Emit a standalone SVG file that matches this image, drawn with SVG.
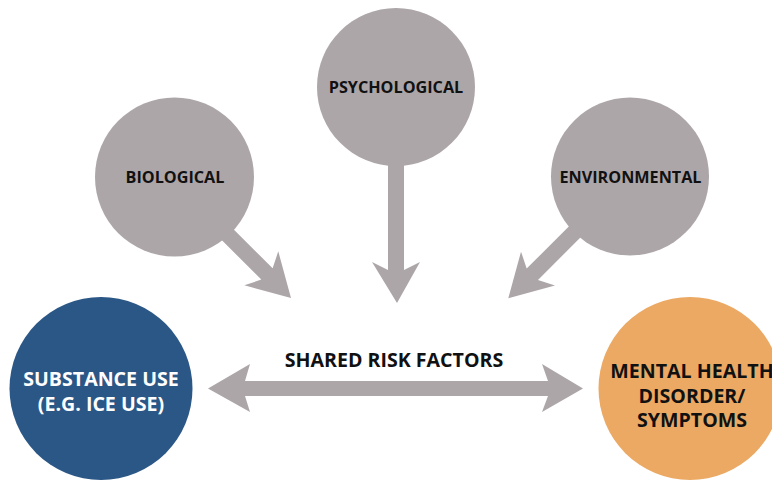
<svg xmlns="http://www.w3.org/2000/svg" width="772" height="480" viewBox="0 0 772 480">
  <defs>
    <style>
      .g { fill: #ADA6A9; }
      .lbl { font-family: "Open Sans", "Noto Sans", "Liberation Sans", sans-serif; font-weight: bold; text-anchor: middle; }
      .sm { font-size: 16.2px; fill: #111111; }
      .lg { font-size: 19.6px; }
    </style>
  </defs>
  <rect width="772" height="480" fill="#FFFFFF"/>
  <g id="connectors">
    <!-- vertical arrow from psychological -->
    <polygon class="g" points="388,140 404,140 404,270 420,262 397,303 372,262 388,270"/>
    <!-- diagonal arrow from biological -->
    <polygon class="g" transform="translate(291,298) rotate(45)" points="-130,-8 -34,-8 -42,-24 0,0 -42,24 -34,8 -130,8"/>
    <!-- diagonal arrow from environmental -->
    <polygon class="g" transform="translate(508.3,298.3) rotate(135)" points="-130,-8 -34,-8 -42,-24 0,0 -42,24 -34,8 -130,8"/>
    <!-- horizontal double arrow -->
    <polygon class="g" points="208,388.5 250,364 245,381 548,381 542,364 583,388.5 542,412 548,396 245,396 250,412"/>
  </g>
  <g id="psychological">
    <circle class="g" cx="396" cy="87" r="79"/>
    <text class="lbl sm" x="396" y="92.8">PSYCHOLOGICAL</text>
  </g>
  <g id="biological">
    <circle class="g" cx="174.5" cy="177" r="79.5"/>
    <text class="lbl sm" x="175" y="182.8">BIOLOGICAL</text>
  </g>
  <g id="environmental">
    <circle class="g" cx="630" cy="176.5" r="79"/>
    <text class="lbl sm" x="630.5" y="182.8">ENVIRONMENTAL</text>
  </g>
  <g id="shared">
    <text class="lbl lg" x="394" y="367" fill="#111111">SHARED RISK FACTORS</text>
  </g>
  <g id="substance">
    <circle cx="101" cy="388.5" r="91.5" fill="#2B5786"/>
    <text class="lbl lg" x="101" y="385.5" fill="#FFFFFF">SUBSTANCE USE</text>
    <text class="lbl lg" x="101" y="410.5" fill="#FFFFFF">(E.G. ICE USE)</text>
  </g>
  <g id="mental">
    <circle cx="690" cy="388.5" r="91.5" fill="#EBA964"/>
    <text class="lbl lg" x="692" y="377.5" fill="#111111">MENTAL HEALTH</text>
    <text class="lbl lg" x="692" y="403" fill="#111111">DISORDER/</text>
    <text class="lbl lg" x="692" y="427" fill="#111111">SYMPTOMS</text>
  </g>
</svg>
